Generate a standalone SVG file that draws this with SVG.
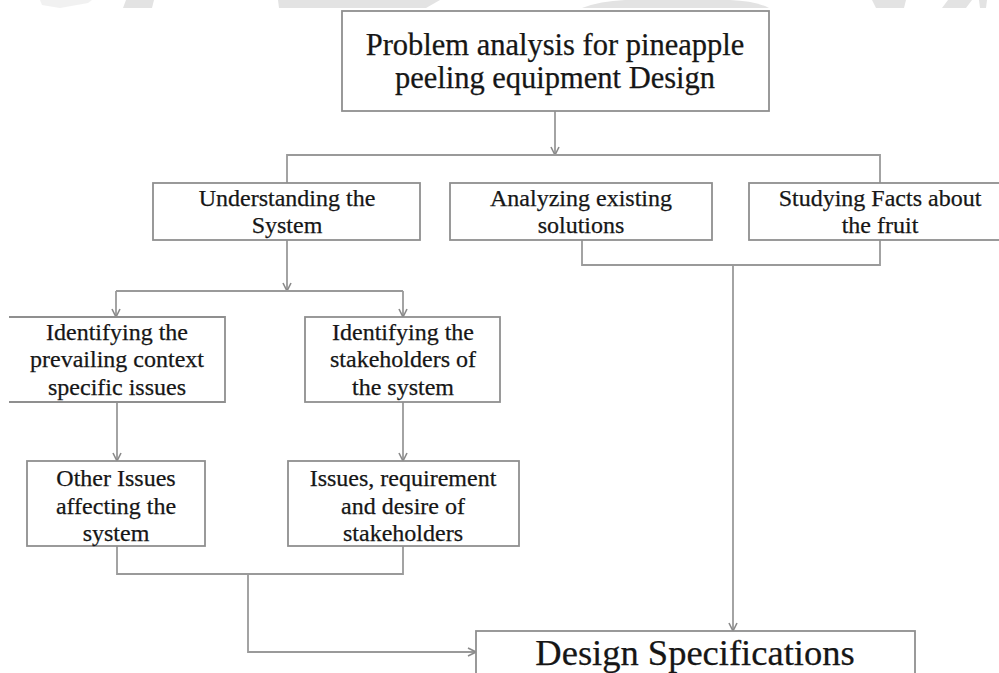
<svg xmlns="http://www.w3.org/2000/svg" width="999" height="673" viewBox="0 0 999 673">
  <defs>
    <style>
      .box { fill: #ffffff; stroke: #8f8f8f; stroke-width: 1.8; }
      .edge { fill: none; stroke: #9a9a9a; stroke-width: 1.8; }
      .lbl { font-family: "Liberation Serif", "Times New Roman", serif; font-size: 24px; fill: #161616; stroke: #161616; stroke-width: 0.25; text-anchor: middle; }
      .title { font-size: 30.5px; }
      .spec { font-size: 36.5px; }
      .wm { fill: #e3e3e3; }
    </style>
    <marker id="arrow" viewBox="0 0 10 10" refX="9" refY="5" markerWidth="10" markerHeight="10" markerUnits="userSpaceOnUse" orient="auto">
      <path d="M1,1 L9,5 L1,9" fill="none" stroke="#8a8a8a" stroke-width="1.6"/>
    </marker>
  </defs>

  <rect width="999" height="673" fill="#ffffff"/>

  <!-- faint page watermark along the top edge -->
  <g id="watermark">
    <path class="wm" d="M40,0 H92 L88,3 L60,8 L42,5 Z" fill-opacity="0.5"/>
    <path class="wm" d="M126,0 H154 L152,8 H123 Z"/>
    <path class="wm" d="M278,0 H440 L426,8 H279 Z"/>
    <path class="wm" d="M582,8 Q600,1 625,0 H730 Q755,1 769,8 Z"/>
    <path class="wm" d="M872,0 H906 L904,8 H876 Z"/>
    <path class="wm" d="M948,0 H972 L966,8 H942 Z"/>
    <path class="wm" d="M979,0 H987 L986,8 H980 Z"/>
  </g>

  <!-- connectors -->
  <g id="connectors">
    <path class="edge" d="M555,111 V155" marker-end="url(#arrow)"/>
    <path class="edge" d="M287,183 V155 H880 V183"/>
    <path class="edge" d="M287,240 V291" marker-end="url(#arrow)"/>
    <path class="edge" d="M116,291 H403"/>
    <path class="edge" d="M116,291 V317" marker-end="url(#arrow)"/>
    <path class="edge" d="M403,291 V317" marker-end="url(#arrow)"/>
    <path class="edge" d="M582,240 V265 H880 V240"/>
    <path class="edge" d="M733,265 V631" marker-end="url(#arrow)"/>
    <path class="edge" d="M117,402 V461" marker-end="url(#arrow)"/>
    <path class="edge" d="M403,402 V461" marker-end="url(#arrow)"/>
    <path class="edge" d="M117,546 V574 H403 V546"/>
    <path class="edge" d="M248,574 V652 H476" marker-end="url(#arrow)"/>
  </g>

  <g id="problem-analysis">
    <rect class="box" x="342" y="11" width="427" height="100"/>
    <text class="lbl title" x="555" y="55">Problem analysis for pineapple</text>
    <text class="lbl title" x="555" y="88">peeling equipment Design</text>
  </g>

  <g id="understanding-system">
    <rect class="box" x="153" y="183" width="267" height="57"/>
    <text class="lbl" x="287" y="206">Understanding the</text>
    <text class="lbl" x="287" y="233">System</text>
  </g>

  <g id="existing-solutions">
    <rect class="box" x="450" y="183" width="262" height="57"/>
    <text class="lbl" x="581" y="206">Analyzing existing</text>
    <text class="lbl" x="581" y="233">solutions</text>
  </g>

  <g id="fruit-facts">
    <rect class="box" x="749" y="183" width="260" height="57"/>
    <text class="lbl" x="880" y="206">Studying Facts about</text>
    <text class="lbl" x="880" y="233">the fruit</text>
  </g>

  <g id="context-issues">
    <path class="box" d="M9,317 H225 V402 H9"/>
    <text class="lbl" x="117" y="340">Identifying the</text>
    <text class="lbl" x="117" y="367">prevailing context</text>
    <text class="lbl" x="117" y="395">specific issues</text>
  </g>

  <g id="stakeholders">
    <rect class="box" x="305" y="317" width="195" height="85"/>
    <text class="lbl" x="403" y="340">Identifying the</text>
    <text class="lbl" x="403" y="367">stakeholders of</text>
    <text class="lbl" x="403" y="395">the system</text>
  </g>

  <g id="other-issues">
    <rect class="box" x="27" y="461" width="178" height="85"/>
    <text class="lbl" x="116" y="486">Other Issues</text>
    <text class="lbl" x="116" y="514">affecting the</text>
    <text class="lbl" x="116" y="541">system</text>
  </g>

  <g id="stakeholder-needs">
    <rect class="box" x="288" y="461" width="231" height="85"/>
    <text class="lbl" x="403" y="486">Issues, requirement</text>
    <text class="lbl" x="403" y="514">and desire of</text>
    <text class="lbl" x="403" y="541">stakeholders</text>
  </g>

  <g id="design-specifications">
    <rect class="box" x="476" y="631" width="439" height="60"/>
    <text class="lbl spec" x="695" y="665">Design Specifications</text>
  </g>
</svg>
